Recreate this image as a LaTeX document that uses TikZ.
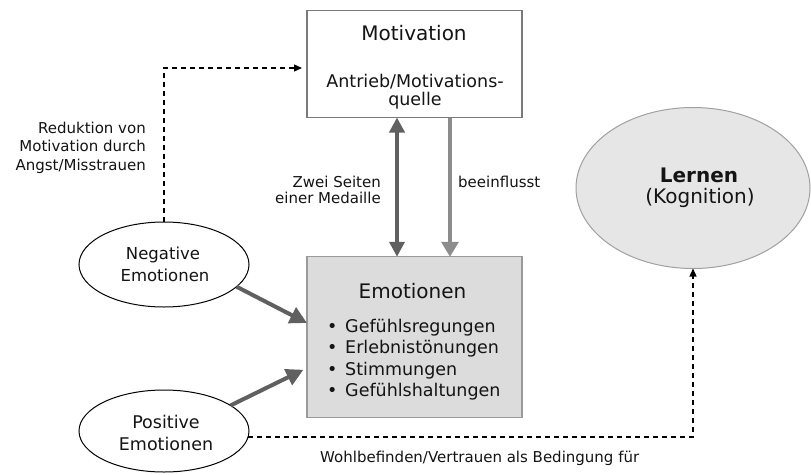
\documentclass[tikz,border=0pt]{standalone}
\usepackage{fontspec}
\setmainfont{DejaVu Sans}
\usetikzlibrary{arrows.meta,shapes.geometric,calc}
\definecolor{txt}{HTML}{141414}
\definecolor{motline}{HTML}{7A7A7A}
\definecolor{emoline}{HTML}{9A9A9A}
\definecolor{emofill}{HTML}{DCDCDC}
\definecolor{lernfill}{HTML}{E6E6E6}
\definecolor{lernline}{HTML}{A0A0A0}
\definecolor{arrdark}{HTML}{606060}
\definecolor{arrlight}{HTML}{8C8C8C}
\tikzset{
  boxnode/.style={draw, line width=1.2pt, inner sep=0pt, outer sep=0pt},
  ellnode/.style={ellipse, draw, inner sep=0pt, outer sep=0pt},
  ttl/.style={text=txt, inner sep=0pt, anchor=base, font=\fontsize{20}{24}\selectfont},
  bodytxt/.style={text=txt, inner sep=0pt, font=\fontsize{17.5}{21}\selectfont},
  lbl/.style={text=txt, inner sep=0pt, font=\fontsize{15}{18}\selectfont},
  fatarrow/.style={line width=4pt, arrdark, -{Triangle[length=17pt,width=17pt]}},
  dasharrow/.style={line width=1.3pt, dash pattern=on 5pt off 4pt, -{Triangle[length=8pt,width=7pt]}},
}
\begin{document}
\begin{tikzpicture}[x=1pt,y=-1pt]
\useasboundingbox (0,0) rectangle (811,474);
\fill[white] (0,0) rectangle (811,474);

% boxes and ellipses
\node[boxnode, draw=motline, fill=white, minimum width=215pt, minimum height=107pt] (mot) at (414.5,64) {};
\node[boxnode, draw=emoline, fill=emofill, minimum width=215pt, minimum height=160.5pt] (emo) at (414.5,337) {};
\node[ellnode, draw=lernline, line width=1pt, fill=lernfill, minimum width=234pt, minimum height=161pt] (lern) at (693,188) {};
\node[ellnode, draw=black, line width=1pt, fill=white, minimum width=170pt, minimum height=85pt] (neg) at (164,264.5) {};
\node[ellnode, draw=black, line width=1pt, fill=white, minimum width=170pt, minimum height=82pt] (pos) at (164,431) {};

% texts in Motivation
\node[ttl] (motT) at (414,40) {Motivation};
\node[bodytxt, anchor=base] (motA) at (415,87) {Antrieb/Motivations-};
\node[bodytxt, anchor=base] (motB) at (415,105) {quelle};

% texts in Emotionen
\node[ttl] (emoT) at (412.5,298) {Emotionen};
\node[bodytxt, anchor=base west] (emo1) at (327,332) {\makebox[18pt][l]{•}Gefühlsregungen};
\node[bodytxt, anchor=base west] (emo2) at (327,353.5) {\makebox[18pt][l]{•}Erlebnistönungen};
\node[bodytxt, anchor=base west] (emo3) at (327,375) {\makebox[18pt][l]{•}Stimmungen};
\node[bodytxt, anchor=base west] (emo4) at (327,396.5) {\makebox[18pt][l]{•}Gefühlshaltungen};

% texts in Lernen
\node[ttl, font=\fontsize{20}{24}\selectfont\bfseries] (lernT) at (699,182) {Lernen};
\node[ttl] (lernK) at (700,203) {(Kognition)};

% texts in ellipses
\node[text=txt, inner sep=0pt, anchor=base, font=\fontsize{16.5}{20}\selectfont] (negA) at (163,259) {Negative};
\node[text=txt, inner sep=0pt, anchor=base, font=\fontsize{16.5}{20}\selectfont] (negB) at (165,281) {Emotionen};
\node[text=txt, inner sep=0pt, anchor=base, font=\fontsize{17.5}{20}\selectfont] (posA) at (166,428) {Positive};
\node[text=txt, inner sep=0pt, anchor=base, font=\fontsize{17.5}{20}\selectfont] (posB) at (166,450) {Emotionen};

% connector labels
\node[lbl, anchor=base east] (red1) at (146,133) {Reduktion von};
\node[lbl, anchor=base east] (red2) at (146,151.5) {Motivation durch};
\node[lbl, anchor=base east] (red3) at (146,170) {Angst/Misstrauen};
\node[lbl, anchor=base east] (zw1) at (381,187) {Zwei Seiten};
\node[lbl, anchor=base east] (zw2) at (381,203.5) {einer Medaille};
\node[lbl, anchor=base west] (bee) at (458,187) {beeinflusst};
\node[lbl, anchor=base west] (wohl) at (320,462) {Wohlbefinden/Vertrauen als Bedingung für};

% connectors
\draw[line width=4pt, arrdark, {Triangle[length=15pt,width=15pt]}-{Triangle[length=15pt,width=15pt]}]
  ([xshift=-17.5pt]mot.south) -- ([xshift=-17.5pt]emo.north);
\draw[line width=3.5pt, arrlight, -{Triangle[length=15pt,width=17pt]}]
  ([xshift=35.5pt]mot.south) -- ([xshift=35.5pt]emo.north);
\draw[fatarrow] (neg.-17) -- ([yshift=14pt]emo.west);
\draw[fatarrow, shorten >=4pt] (pos.21) -- ([yshift=-31pt]emo.west);
\draw[dasharrow, shorten >=5pt] (neg.north) |- ([yshift=-4pt]mot.west);
\draw[dasharrow] (pos.-4) -| (lern.south);
\end{tikzpicture}
\end{document}
